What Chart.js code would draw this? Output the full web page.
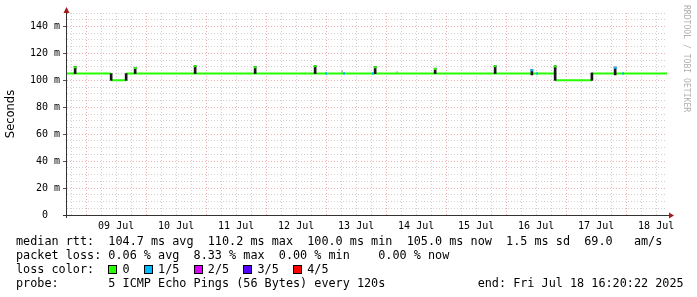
<!DOCTYPE html>
<html lang="en">
<head>
  <meta charset="UTF-8">
  <title>Smokeping median rtt, 10 days</title>
  <script src="https://cdn.jsdelivr.net/npm/chart.js"></script>
  <style>
    * {
      margin: 0;
      padding: 0;
      box-sizing: border-box;
    }

    body {
      width: 697px;
      height: 297px;
      background-color: #fff;
      overflow: hidden;
    }

    .wrap {
      position: relative;
      width: 697px;
      height: 297px;
    }

    #chartCanvas {
      position: absolute;
      left: 0;
      top: 0;
    }

    .legend {
      position: absolute;
      left: 16px;
      top: 234px;
      font-family: "DejaVu Sans Mono", monospace;
      font-size: 11.8px;
      line-height: 14px;
      color: #000;
      white-space: pre;
    }

    .box {
      display: inline-block;
      width: 9px;
      height: 9px;
      border: 1px solid #000;
      margin-right: calc(2ch - 9px);
      vertical-align: -1px;
    }
  </style>
</head>
<body>
<div class="wrap">
  <canvas id="chartCanvas" width="697" height="297"></canvas>
  <div class="legend" id="legend"></div>
</div>

<script>
  // time in hours since 08 Jul 00:00, window ends Fri Jul 18 16:20:22
  const startHour = 16.34;
  const endHour = 256.34;

  // median rtt (ms) levels
  const levelStart = [16.34, 34, 40, 211.6, 226.3];
  const levelEnd = [34, 40, 211.6, 226.3, 256.34];
  const levelRtt = [105, 100, 105, 100, 105];

  // dark smoke spikes
  const spikeHours = [19.6, 34, 40, 43.6, 67.6, 91.6, 115.6, 139.6, 163.6, 187.6, 202.3, 211.6, 226.3, 235.6];
  const spikeLow = [105, 100, 100, 105, 105, 105, 105, 105, 105, 105, 104, 100, 100, 104];
  const spikeHigh = [110.2, 105, 105, 109.7, 111, 110.2, 111, 110.2, 109, 111, 108, 110.8, 105.5, 109.8];
  const spikeLoss = [0, null, null, 0, 0, 0, 0, 0, 0, 0, 1, 0, null, 1];

  // single steps with 1/5 loss on the median line
  const lossHours = [120, 127.2, 138.7, 204.4, 238.8];
  const lossRtt = [105, 105, 105, 105, 105];

  // faint smoke
  const smokeHours = [126.4, 148.3];
  const smokeHigh = [107.2, 106.5];

  const lossLabels = ['0', '1/5', '2/5', '3/5', '4/5'];
  const lossColors = ['#26ff00', '#00b8ff', '#dd00ff', '#5500ff', '#ff0000'];

  const months = 'Jul';
  const yTickStep = 5;

  // legend text under the graph
  const legendLines = [
    'median rtt:  104.7 ms avg  110.2 ms max  100.0 ms min  105.0 ms now  1.5 ms sd  69.0   am/s',
    'packet loss: 0.06 % avg  8.33 % max  0.00 % min    0.00 % now',
    null,
    'probe:       5 ICMP Echo Pings (56 Bytes) every 120s             end: Fri Jul 18 16:20:22 2025'
  ];

  const legend = document.getElementById('legend');
  let html = '';
  legendLines.forEach((line) => {
    if (line === null) {
      html += 'loss color:  ' + lossLabels.map((l, i) =>
        '<span class="box" style="background:' + lossColors[i] + '"></span>' + l).join('  ');
    } else {
      html += line;
    }
    html += '\n';
  });
  legend.innerHTML = html;

  // build line data, one segment per level
  const lineData = [];
  levelStart.forEach((s, i) => {
    lineData.push({x: s, y: levelRtt[i]}, {x: levelEnd[i], y: levelRtt[i]}, {x: levelEnd[i], y: null});
  });

  const spikeData = spikeHours.map((h, i) => ({x: h, y: [spikeLow[i], spikeHigh[i]]}));
  const tipData = [];
  const tipColors = [];
  spikeHours.forEach((h, i) => {
    if (spikeLoss[i] !== null) {
      tipData.push({x: h, y: [spikeHigh[i] - 1, spikeHigh[i]]});
      tipColors.push(lossColors[spikeLoss[i]]);
    }
  });
  const lossData = lossHours.map((h, i) => ({x: h, y: [lossRtt[i] - 0.7, lossRtt[i] + 0.7]}));
  const smokeData = smokeHours.map((h, i) => ({x: h, y: [105, smokeHigh[i]]}));

  const minorColor = 'rgba(170,170,170,0.55)';
  const majorColor = 'rgba(230,120,120,0.6)';

  // axes arrows and watermark
  const rrdDecor = {
    id: 'rrdDecor',
    afterDraw(chart) {
      const {ctx, chartArea: a} = chart;
      ctx.save();
      ctx.strokeStyle = '#333';
      ctx.lineWidth = 1;
      ctx.beginPath();
      ctx.moveTo(a.left - 0.5, a.bottom + 3);
      ctx.lineTo(a.left - 0.5, a.top - 2);
      ctx.moveTo(a.left - 4, a.bottom + 0.5);
      ctx.lineTo(a.right + 2, a.bottom + 0.5);
      ctx.stroke();

      ctx.fillStyle = '#a01c1c';
      ctx.beginPath();
      ctx.moveTo(a.left - 0.5, a.top - 6);
      ctx.lineTo(a.left - 3.5, a.top);
      ctx.lineTo(a.left + 2.5, a.top);
      ctx.closePath();
      ctx.fill();
      ctx.beginPath();
      ctx.moveTo(a.right + 7, a.bottom + 0.5);
      ctx.lineTo(a.right + 2, a.bottom - 2.5);
      ctx.lineTo(a.right + 2, a.bottom + 3.5);
      ctx.closePath();
      ctx.fill();

      ctx.translate(683, 5);
      ctx.rotate(Math.PI / 2);
      ctx.fillStyle = '#b0b0b0';
      ctx.font = '8.1px "DejaVu Sans Mono"';
      ctx.textBaseline = 'middle';
      ctx.fillText('RRDTOOL / TOBI OETIKER', 0, -3);
      ctx.restore();
    }
  };

  const ctx = document.getElementById('chartCanvas').getContext('2d');
  const chart = new Chart(ctx, {
    type: 'line',
    data: {
      datasets: [
        {
          type: 'bar',
          data: tipData,
          backgroundColor: tipColors,
          barThickness: 2,
          grouped: false,
          order: 0
        },
        {
          type: 'bar',
          data: lossData,
          backgroundColor: lossColors[1],
          barThickness: 1,
          grouped: false,
          order: 1
        },
        {
          type: 'bar',
          data: spikeData,
          backgroundColor: '#161616',
          barThickness: 2,
          grouped: false,
          order: 2
        },
        {
          type: 'bar',
          data: smokeData,
          backgroundColor: '#b8b8b8',
          barThickness: 1,
          grouped: false,
          order: 4
        },
        {
          type: 'line',
          data: lineData,
          borderColor: lossColors[0],
          borderWidth: 2,
          pointRadius: 0,
          spanGaps: false,
          tension: 0,
          order: 3
        }
      ]
    },
    options: {
      responsive: false,
      animation: false,
      events: [],
      layout: {
        padding: {top: 13, right: 30, bottom: 62, left: 0}
      },
      plugins: {
        legend: {display: false},
        tooltip: {enabled: false}
      },
      scales: {
        x: {
          type: 'linear',
          min: startHour,
          max: endHour,
          offset: false,
          afterBuildTicks: (scale) => {
            const ticks = [];
            for (let v = 18; v <= 252; v += 6) ticks.push({value: v});
            scale.ticks = ticks;
          },
          afterFit: (scale) => {
            scale.height = 20;
          },
          grid: {
            offset: false,
            drawTicks: false,
            color: (c) => (c.tick && c.tick.value % 24 === 0 ? majorColor : minorColor),
            lineWidth: 1
          },
          border: {display: false, dash: [1, 2]},
          ticks: {
            autoSkip: false,
            maxRotation: 0,
            padding: 5,
            color: '#000',
            font: {family: 'DejaVu Sans Mono', size: 10},
            callback: (v) => {
              if (v % 24 !== 12) return '';
              const day = 8 + Math.floor(v / 24);
              return String(day).padStart(2, '0') + ' ' + months;
            }
          }
        },
        y: {
          type: 'linear',
          min: 0,
          max: 150,
          afterFit: (scale) => {
            scale.width = 67;
          },
          title: {
            display: true,
            text: 'Seconds',
            color: '#000',
            font: {family: 'DejaVu Sans', size: 11.5},
            padding: {top: 4, bottom: 0}
          },
          grid: {
            color: (c) => (c.tick && c.tick.value % 20 === 0 ? majorColor : minorColor),
            tickColor: (c) => (c.tick && c.tick.value % 20 === 0 ? '#555' : 'rgba(0,0,0,0)'),
            tickLength: 4,
            lineWidth: 1
          },
          border: {display: false, dash: [1, 2]},
          ticks: {
            stepSize: yTickStep,
            autoSkip: false,
            padding: 3,
            color: '#000',
            font: {family: 'DejaVu Sans Mono', size: 10},
            callback: (v) => {
              if (v % 20 !== 0) return '';
              return v === 0 ? '0  ' : v + ' m';
            }
          }
        }
      }
    },
    plugins: [rrdDecor]
  });
</script>
</body>
</html>
